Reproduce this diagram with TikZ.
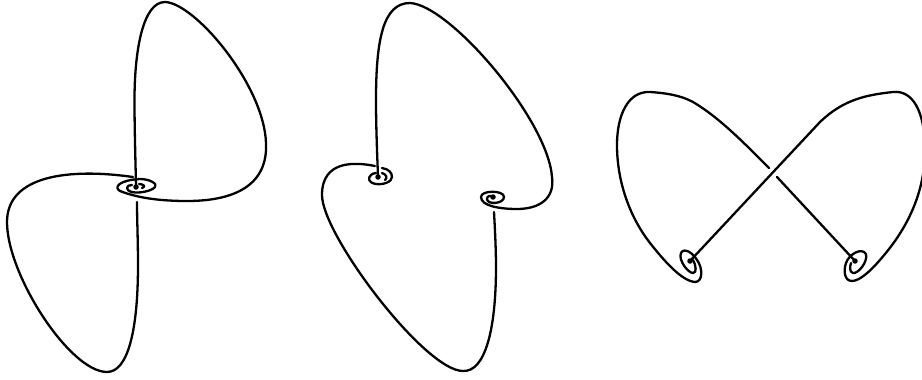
\documentclass[tikz,border=0pt]{standalone}
\begin{document}
\begin{tikzpicture}[
    x=1pt, y=-1pt,
    strand/.style={line width=2.3pt, line cap=round, line join=round},
    knotdot/.style={circle, fill=black, inner sep=0pt, minimum size=5.5pt}
]
    \useasboundingbox (0,0) rectangle (922,380);

    \node [knotdot] (dotA) at (136,187) {};
    \node [knotdot] (dotB) at (378,177) {};
    \node [knotdot] (dotC) at (493,197) {};
    \node [knotdot] (dotD) at (690,261) {};
    \node [knotdot] (dotE) at (855,261) {};

    \draw [strand] (dotA.center) .. controls (135.5,160) and (134.5,130) .. (134.5,100)
        .. controls (134.5,50) and (143,2) .. (165,2)
        .. controls (195,3) and (264,85) .. (266,143)
        .. controls (268,185) and (235,201) .. (187,201)
        .. controls (165,201) and (140,199) .. (120,191)
        .. controls (113,187) and (120,180) .. (140,179)
        .. controls (150,179) and (158,184) .. (155,187)
        .. controls (152,192) and (128,196) .. (127,188)
        .. controls (127,186) and (129,185) .. (132,185);
    \draw [strand] (139,184) .. controls (144,184) and (146,187) .. (142,188);
    \draw [strand] (133,177) .. controls (70,168) and (7,175) .. (7,222)
        .. controls (7,275) and (70,372) .. (107,372)
        .. controls (128,372) and (138,330) .. (138,265)
        .. controls (138,240) and (137,220) .. (137,202);

    \draw [strand] (dotB.center) .. controls (377,150) and (376,125) .. (376,100)
        .. controls (376,40) and (383,3) .. (410,3)
        .. controls (450,5) and (548,120) .. (552,177)
        .. controls (555,198) and (540,209) .. (517,209)
        .. controls (500,209) and (481,206) .. (481,197)
        .. controls (481,190) and (504,190) .. (504,197)
        .. controls (504,204) and (487,205) .. (487,199)
        .. controls (487,196) and (490,195) .. (dotC.center);
    \draw [strand] (375,166) .. controls (355,162) and (322,160) .. (322,195)
        .. controls (322,235) and (425,371) .. (463,371)
        .. controls (485,372) and (496,330) .. (496,267)
        .. controls (496,250) and (495,230) .. (494,212);
    \draw [strand] (382,168) .. controls (389,169) and (392,173) .. (392,177)
        .. controls (392,182) and (383,185) .. (376,184)
        .. controls (369,183) and (367,178) .. (371,175)
        .. controls (372,174) and (374,173) .. (376,173);
    \draw [strand] (382,173) .. controls (386,174) and (388,178) .. (385,180);

    \draw [strand] (dotD.center) -- (820,122)
        .. controls (843,100) and (865,95) .. (893,92)
        .. controls (912,90) and (925,110) .. (925,150)
        .. controls (925,195) and (905,230) .. (885,254)
        .. controls (872,270) and (860,281) .. (852,281)
        .. controls (845,281) and (843,272) .. (846,263)
        .. controls (849,254) and (862,247) .. (866,254)
        .. controls (868,262) and (858,274) .. (853,273)
        .. controls (849,272) and (850,266) .. (851,263);
    \draw [strand] (dotE.center) -- (777,177);
    \draw [strand] (769,168) .. controls (745,144) and (720,118) .. (693,102)
        .. controls (680,95) and (665,93) .. (650,92)
        .. controls (628,91) and (617,115) .. (617,145)
        .. controls (617,185) and (632,220) .. (650,243)
        .. controls (665,262) and (682,281) .. (695,282)
        .. controls (703,282) and (703,268) .. (697,260)
        .. controls (693,253) and (684,247) .. (681,253)
        .. controls (678,260) and (688,273) .. (693,273)
        .. controls (697,273) and (696,265) .. (693,260);
\end{tikzpicture}
\end{document}
